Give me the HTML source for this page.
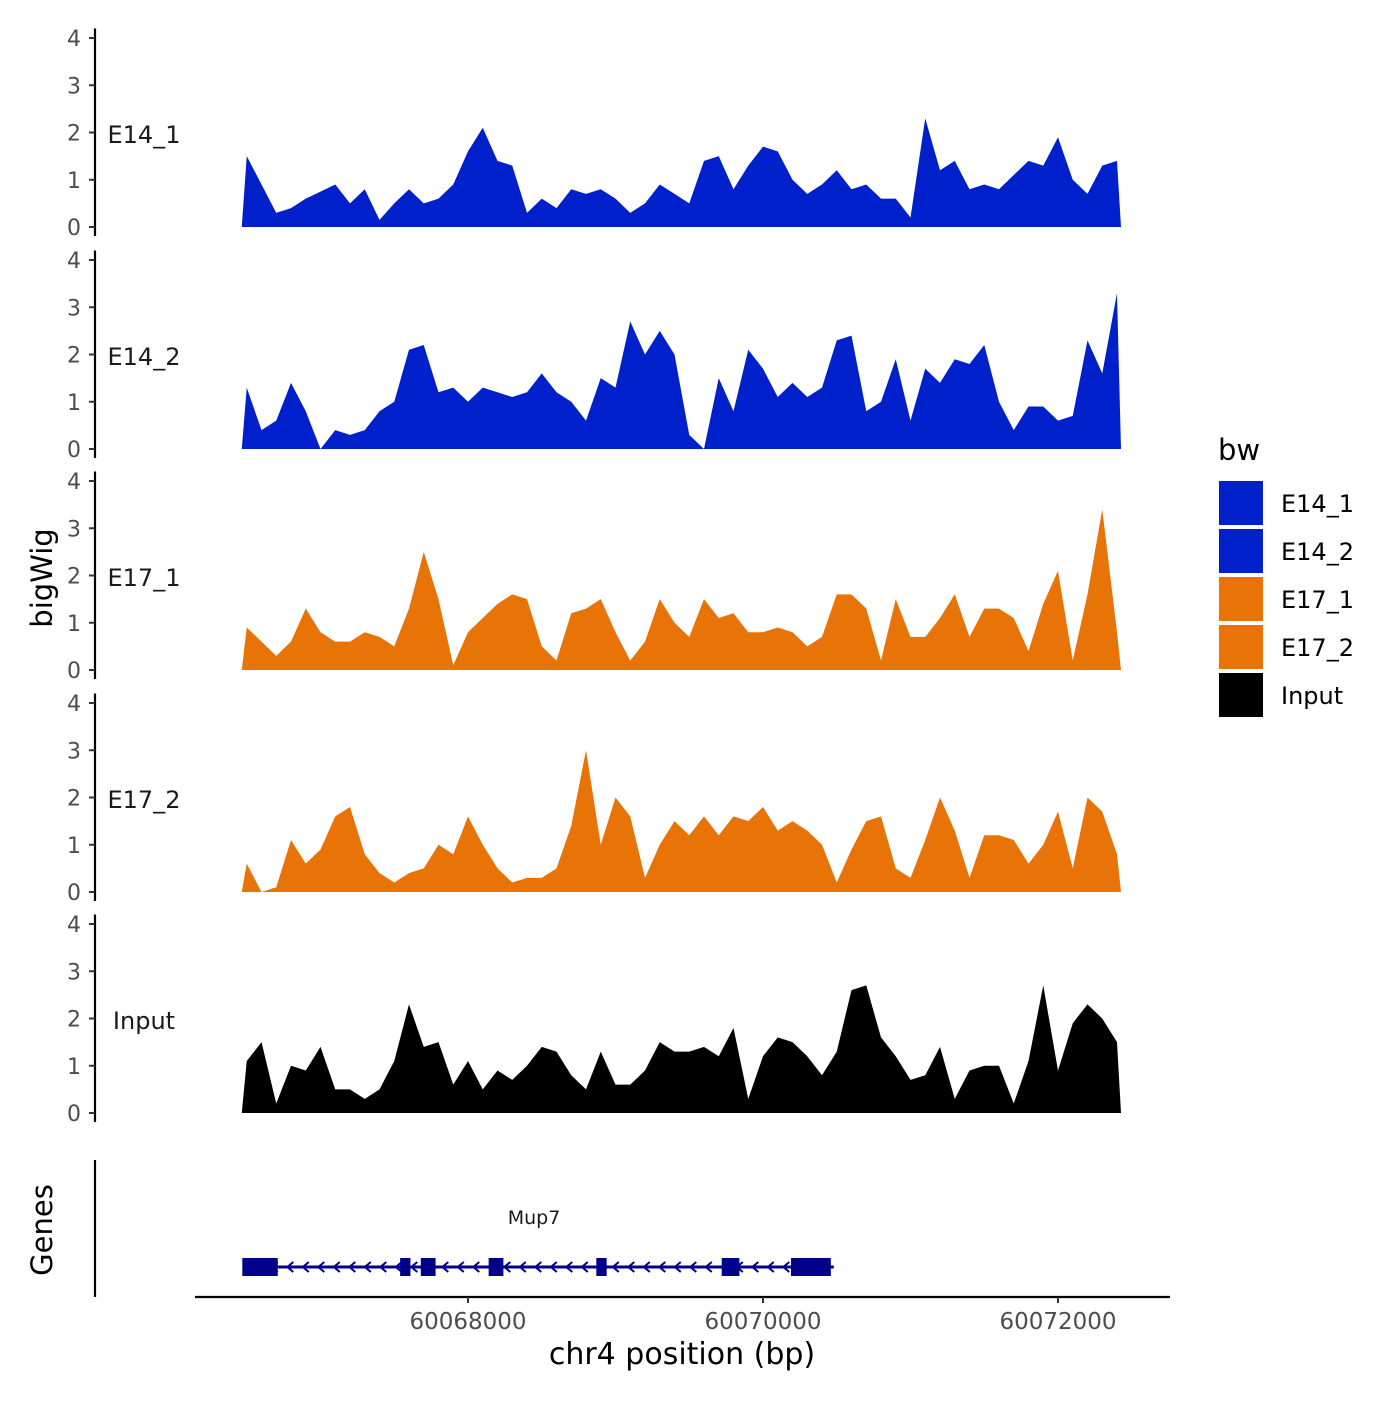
<!DOCTYPE html>
<html><head><meta charset="utf-8"><style>
body{margin:0;background:#fff}
svg text{font-family:"DejaVu Sans","Liberation Sans",sans-serif}
</style></head><body>
<svg id="chart" width="1400" height="1400" xmlns="http://www.w3.org/2000/svg"></svg>
<script>
const trackNames=["E14_1","E14_2","E17_1","E17_2","Input"];
const trackColors=["#0020cc","#0020cc","#e87306","#e87306","#000000"];
const yTicks=[0,1,2,3,4];
const xTicks=[60068000,60070000,60072000];
const positions=[];for(let i=0;i<60;i++)positions.push(60066500+100*i);
const e14_1=[1.5,0.9,0.3,0.4,0.6,0.75,0.9,0.5,0.8,0.15,0.5,0.8,0.5,0.6,0.9,1.6,2.1,1.4,1.3,0.3,0.6,0.4,0.8,0.7,0.8,0.6,0.3,0.5,0.9,0.7,0.5,1.4,1.5,0.8,1.3,1.7,1.6,1.0,0.7,0.9,1.2,0.8,0.9,0.6,0.6,0.2,2.3,1.2,1.4,0.8,0.9,0.8,1.1,1.4,1.3,1.9,1.0,0.7,1.3,1.4];
const e14_2=[1.3,0.4,0.6,1.4,0.8,0.0,0.4,0.3,0.4,0.8,1.0,2.1,2.2,1.2,1.3,1.0,1.3,1.2,1.1,1.2,1.6,1.2,1.0,0.6,1.5,1.3,2.7,2.0,2.5,2.0,0.3,0.0,1.5,0.8,2.1,1.7,1.1,1.4,1.1,1.3,2.3,2.4,0.8,1.0,1.9,0.6,1.7,1.4,1.9,1.8,2.2,1.0,0.4,0.9,0.9,0.6,0.7,2.3,1.6,3.3];
const e17_1=[0.9,0.6,0.3,0.6,1.3,0.8,0.6,0.6,0.8,0.7,0.5,1.3,2.5,1.5,0.1,0.8,1.1,1.4,1.6,1.5,0.5,0.2,1.2,1.3,1.5,0.8,0.2,0.6,1.5,1.0,0.7,1.5,1.1,1.2,0.8,0.8,0.9,0.8,0.5,0.7,1.6,1.6,1.3,0.2,1.5,0.7,0.7,1.1,1.6,0.7,1.3,1.3,1.1,0.4,1.4,2.1,0.2,1.6,3.4,0.8];
const e17_2=[0.6,0.0,0.1,1.1,0.6,0.9,1.6,1.8,0.8,0.4,0.2,0.4,0.5,1.0,0.8,1.6,1.0,0.5,0.2,0.3,0.3,0.5,1.4,3.0,1.0,2.0,1.6,0.3,1.0,1.5,1.2,1.6,1.2,1.6,1.5,1.8,1.3,1.5,1.3,1.0,0.2,0.9,1.5,1.6,0.5,0.3,1.1,2.0,1.3,0.3,1.2,1.2,1.1,0.6,1.0,1.7,0.5,2.0,1.7,0.8];
const input=[1.1,1.5,0.2,1.0,0.9,1.4,0.5,0.5,0.3,0.5,1.1,2.3,1.4,1.5,0.6,1.1,0.5,0.9,0.7,1.0,1.4,1.3,0.8,0.5,1.3,0.6,0.6,0.9,1.5,1.3,1.3,1.4,1.2,1.8,0.3,1.2,1.6,1.5,1.2,0.8,1.3,2.6,2.7,1.6,1.2,0.7,0.8,1.4,0.3,0.9,1.0,1.0,0.2,1.1,2.7,0.9,1.9,2.3,2.0,1.5];
const series=[e14_1,e14_2,e17_1,e17_2,input];
const exonsStart=[60066470,60067540,60067680,60068140,60068870,60069720,60070190];
const exonsEnd=[60066710,60067610,60067780,60068240,60068940,60069840,60070460];
const geneStart=60066480,geneEnd=60070480;

const NS="http://www.w3.org/2000/svg";
const svg=document.getElementById('chart');
function el(t,a,p){const e=document.createElementNS(NS,t);for(const k in a)e.setAttribute(k,a[k]);(p||svg).appendChild(e);return e;}
const xS=bp=>468+(bp-60068000)*0.1475;
const zeroY=[227,449,670,892,1113];
const unit=47.25;

trackNames.forEach((nm,t)=>{
  const g=el('g',{});
  
  
  const y0=zeroY[t];const yS=v=>y0-v*unit;
  let d=`M${xS(positions[0])-5},${y0}`;
  series[t].forEach((v,i)=>{d+=` L${xS(positions[i])},${yS(v)}`;});
  d+=` L${xS(positions[positions.length-1])+4},${y0} Z`;
  const p=el('path',{d:d,fill:trackColors[t]},g);
  
  
  el('line',{x1:95,x2:95,y1:yS(4.2),y2:y0+9,stroke:'#000','stroke-width':2.2},g);
  yTicks.forEach(v=>{
    el('line',{x1:89,x2:95,y1:yS(v),y2:yS(v),stroke:'#333','stroke-width':2},g);
    const tx=el('text',{x:81,y:yS(v)+8,'text-anchor':'end','font-size':22,fill:'#4d4d4d'},g);tx.textContent=v;
  });
  const lb=el('text',{x:144,y:y0-84,'text-anchor':'middle','font-size':24,fill:'#1a1a1a'},g);
  lb.textContent=nm;
  
  
});

const yt=el('text',{x:0,y:0,transform:'translate(52,578) rotate(-90)','text-anchor':'middle','font-size':29});
yt.textContent='bigWig';


const gt=el('text',{x:0,y:0,transform:'translate(52,1230) rotate(-90)','text-anchor':'middle','font-size':29});
gt.textContent='Genes';


el('line',{x1:95,x2:95,y1:1160,y2:1297,stroke:'#000','stroke-width':2.2});

const gg=el('g',{});


el('line',{x1:xS(geneStart),x2:xS(geneEnd),y1:1267,y2:1267,stroke:'#00008b','stroke-width':3},gg);
for(let x=xS(geneStart)+30;x<xS(geneEnd)-10;x+=15.5){
  el('path',{d:`M${x+4},${1262} L${x-2},${1267} L${x+4},${1272}`,fill:'none',stroke:'#00008b','stroke-width':2},gg);
}
exonsStart.forEach((s,i)=>{
  const r=el('rect',{x:xS(s),y:1258,width:xS(exonsEnd[i])-xS(s),height:18,fill:'#00008b'},gg);
  
  
});
const gl=el('text',{x:534,y:1224,'text-anchor':'middle','font-size':19,fill:'#1a1a1a'},gg);gl.textContent='Mup7';

const xa=el('g',{});


el('line',{x1:195,x2:1170,y1:1297,y2:1297,stroke:'#000','stroke-width':2.2},xa);
xTicks.forEach(v=>{
  el('line',{x1:xS(v),x2:xS(v),y1:1297,y2:1303,stroke:'#333','stroke-width':2},xa);
  const t=el('text',{x:xS(v),y:1329,'text-anchor':'middle','font-size':23,fill:'#4d4d4d'},xa);t.textContent=v;
});
const xt=el('text',{x:682,y:1364,'text-anchor':'middle','font-size':30});
xt.textContent='chr4 position (bp)';



const lg=el('g',{});


const lt=el('text',{x:1218,y:460,'font-size':29},lg);lt.textContent='bw';
trackNames.forEach((nm,i)=>{
  const e=el('g',{},lg);
  
  
  el('rect',{x:1219,y:481+48*i,width:44,height:44,fill:trackColors[i]},e);
  const t=el('text',{x:1281,y:512+48*i,'font-size':24},e);t.textContent=nm;
});
</script>
</body></html>
